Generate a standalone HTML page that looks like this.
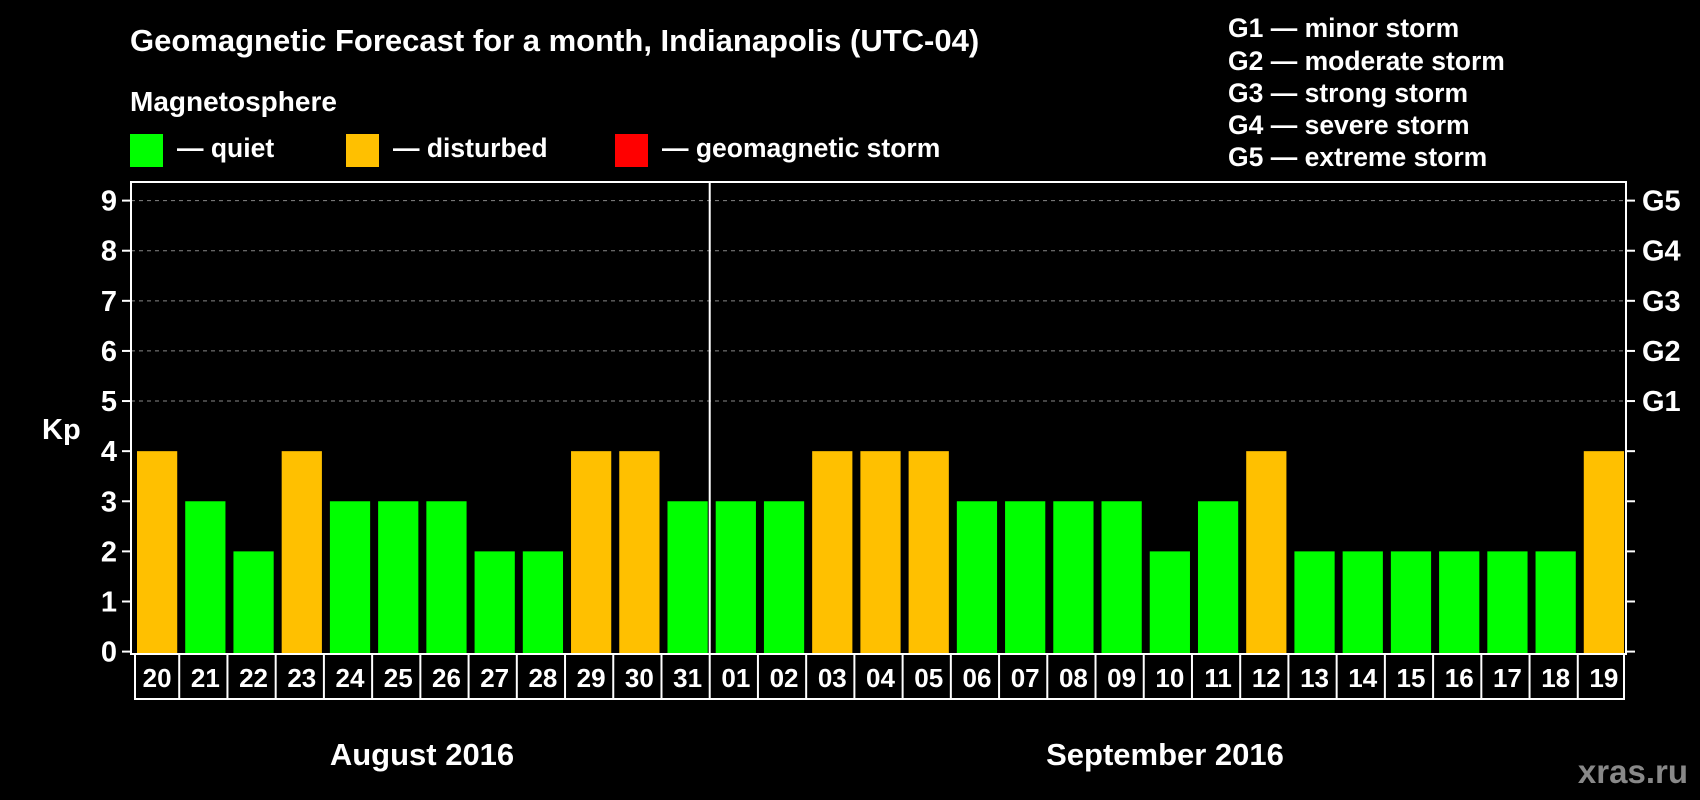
<!DOCTYPE html>
<html><head><meta charset="utf-8"><style>
html,body{margin:0;padding:0;background:#000;}
svg{display:block;font-family:"Liberation Sans",Arial,sans-serif;font-weight:bold;}
</style></head><body>
<svg id="chart" width="1700" height="800" viewBox="0 0 1700 800">
<text x="130" y="51" fill="#fff" font-size="31">Geomagnetic Forecast for a month, Indianapolis (UTC-04)</text>
<text x="130" y="111" fill="#fff" font-size="28">Magnetosphere</text>
<rect x="130" y="134" width="33" height="33" fill="#00ff00"/>
<text x="177" y="157" fill="#fff" font-size="26.5">— quiet</text>
<rect x="346" y="134" width="33" height="33" fill="#ffc000"/>
<text x="393" y="157" fill="#fff" font-size="26.5">— disturbed</text>
<rect x="615" y="134" width="33" height="33" fill="#ff0000"/>
<text x="662" y="157" fill="#fff" font-size="26.5">— geomagnetic storm</text>
<g fill="#fff" font-size="26.5">
<text x="1228" y="37">G1 — minor storm</text>
<text x="1228" y="70">G2 — moderate storm</text>
<text x="1228" y="102">G3 — strong storm</text>
<text x="1228" y="134">G4 — severe storm</text>
<text x="1228" y="166">G5 — extreme storm</text>
</g>
<text x="42" y="439" fill="#fff" font-size="29">Kp</text>
<text x="422" y="765" fill="#fff" font-size="31" text-anchor="middle">August 2016</text>
<text x="1165" y="765" fill="#fff" font-size="31" text-anchor="middle">September 2016</text>
<text x="1688" y="783" fill="#888" font-size="33" text-anchor="end">xras.ru</text>
</svg>
<script>
const dayLabels = ["20","21","22","23","24","25","26","27","28","29","30","31","01","02","03","04","05","06","07","08","09","10","11","12","13","14","15","16","17","18","19"];
const kpValues = [4,3,2,4,3,3,3,2,2,4,4,3,3,3,4,4,4,3,3,3,3,2,3,4,2,2,2,2,2,2,4];
const yTicks = [0,1,2,3,4,5,6,7,8,9];
const gLabels = ["G1","G2","G3","G4","G5"];
const gLevels = [5,6,7,8,9];
const monthBreakIndex = 12;

const svg = document.getElementById('chart');
const NS = 'http://www.w3.org/2000/svg';
const L = 131, R = 1626, T = 182, B = 654;
const n = dayLabels.length;
const slot = (R - L) / n;
function xs(i){ return L + i * slot; }
function ys(v){ return 651.6 - v * (651.6 - 200.6) / 9; }
function mk(tag, attrs){ const e = document.createElementNS(NS, tag); for (const k in attrs) e.setAttribute(k, attrs[k]); svg.appendChild(e); return e; }

yTicks.forEach(v => {
  if (v >= 5) {
    const g = mk('line', {x1:L, x2:R, y1:ys(v), y2:ys(v), stroke:'#888', 'stroke-width':1, 'stroke-dasharray':'4,4'});
    
    
  }
  const t = mk('line', {x1:L-9, x2:L, y1:ys(v), y2:ys(v), stroke:'#fff', 'stroke-width':2});
  
  
  const t2 = mk('line', {x1:R, x2:R+9, y1:ys(v), y2:ys(v), stroke:'#fff', 'stroke-width':2});
  
  
  const lb = mk('text', {x:L-14, y:ys(v)+10, fill:'#fff', 'font-size':29, 'text-anchor':'end'});
  lb.textContent = v;
  
  
});
gLabels.forEach((g, i) => {
  const lb = mk('text', {x:R+16, y:ys(gLevels[i])+10, fill:'#fff', 'font-size':29});
  lb.textContent = g;
  
  
});
kpValues.forEach((v, i) => {
  const b = mk('rect', {x:xs(i)+6, y:ys(v), width:slot-8, height:B-ys(v), fill: v >= 5 ? '#ff0000' : (v >= 4 ? '#ffc000' : '#00ff00')});
  
  
});
const frame = mk('rect', {x:L, y:T, width:R-L, height:B-T, fill:'none', stroke:'#fff', 'stroke-width':2});


const div = mk('line', {x1:xs(monthBreakIndex), x2:xs(monthBreakIndex), y1:T, y2:B, stroke:'#fff', 'stroke-width':2});


const BH = 62;
const box = mk('rect', {x:L+4, y:B, width:R-L-6, height:BH-17, fill:'none', stroke:'#fff', 'stroke-width':2});


dayLabels.forEach((d, i) => {
  if (i > 0) {
    const s = mk('line', {x1:xs(i), x2:xs(i), y1:B, y2:B+BH-17, stroke:'#fff', 'stroke-width':2});
    
    
  }
  const t = mk('text', {x:xs(i)+slot/2+2, y:B+33, fill:'#fff', 'font-size':26, 'text-anchor':'middle'});
  t.textContent = d;
  
  
});
</script>
</body></html>
